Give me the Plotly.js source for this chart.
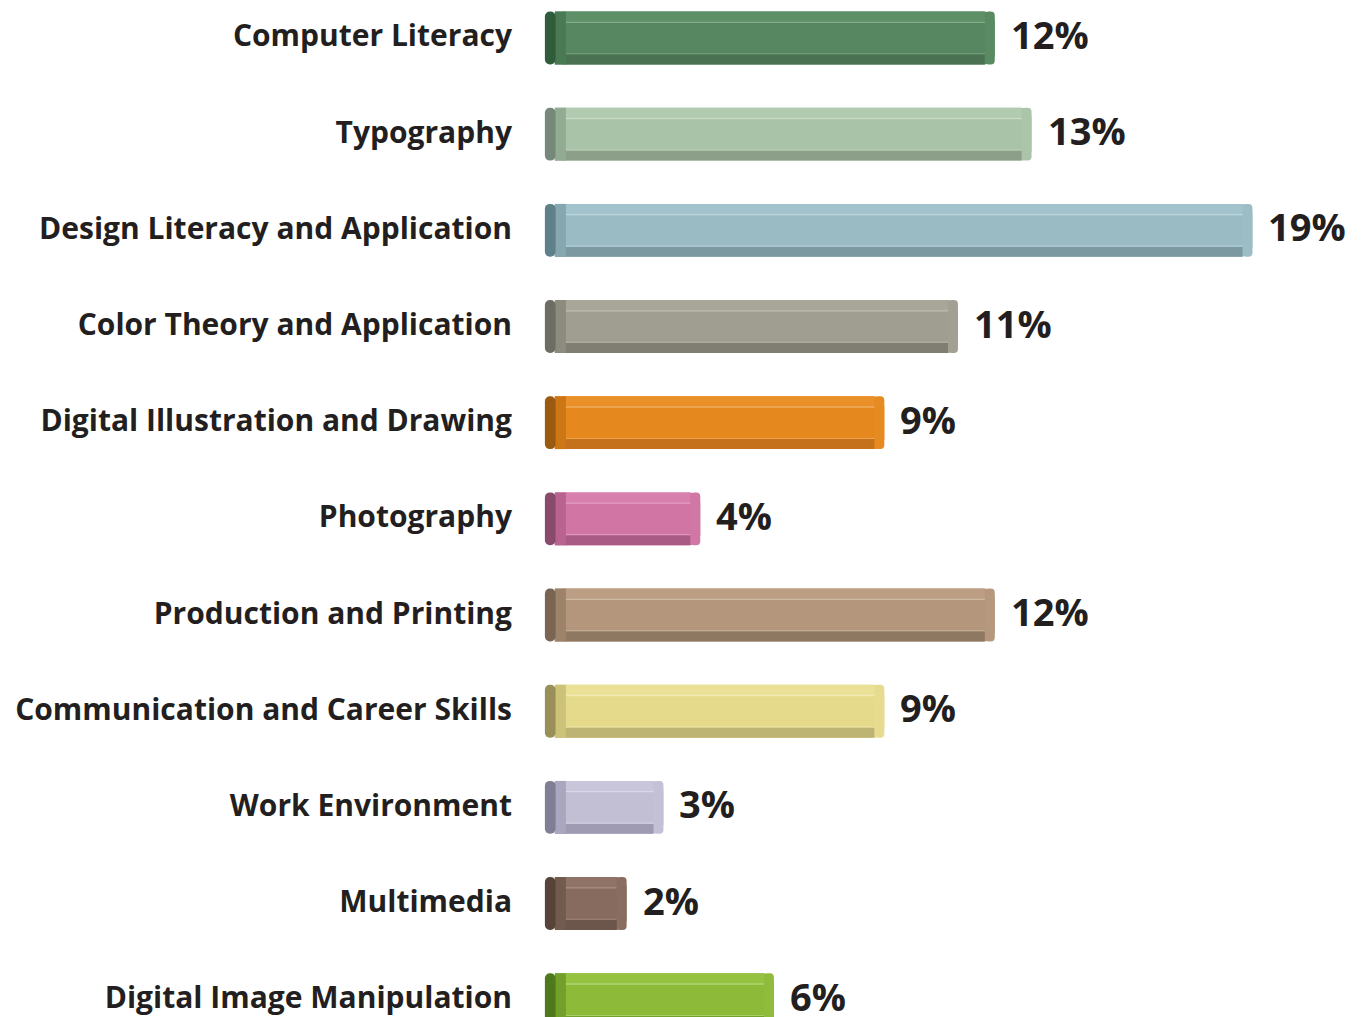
<!DOCTYPE html>
<html>
<head>
<meta charset="utf-8">
<script src="https://cdn.plot.ly/plotly-3.0.1.min.js"></script>
<style>html,body{margin:0;padding:0;background:#fff;}#chart{width:1364px;height:1017px;}</style>
</head>
<body>
<div id="chart"></div>
<script>
// ---- data ----
const categories = [
  "Computer Literacy",
  "Typography",
  "Design Literacy and Application",
  "Color Theory and Application",
  "Digital Illustration and Drawing",
  "Photography",
  "Production and Printing",
  "Communication and Career Skills",
  "Work Environment",
  "Multimedia",
  "Digital Image Manipulation"
];
const values = [12, 13, 19, 11, 9, 4, 12, 9, 3, 2, 6];
const valueLabels = ["12%", "13%", "19%", "11%", "9%", "4%", "12%", "9%", "3%", "2%", "6%"];

// ---- styles ----
const faceColors   = ["#578760","#a9c3a8","#9bbbc4","#a09e90","#e5891f","#d075a4","#b3967b","#e5da8c","#c2bfd5","#876b5e","#8dba38"];
const topColors    = ["#5e9068","#b0cbaf","#a3c3cc","#a8a698","#ea9028","#d77fad","#bb9e83","#ebe196","#c9c6dc","#8f7366","#96c242"];
const hiColors     = ["#8cb494","#cfe0ce","#c6dde3","#c8c6bb","#f3b772","#e8acc9","#d6c1ad","#f3edc0","#e0deeb","#b29c91","#bcdc84"];
const bottomColors = ["#4a7252","#8b9f89","#7c98a0","#807e72","#c5701a","#a95b85","#8f7862","#bdb372","#9e9bb2","#6c564b","#74a02c"];
const capColors    = ["#305c3b","#76887a","#5f7f89","#6e6d63","#9a5a10","#8a4a6c","#7a6552","#989058","#807e94","#574338","#4e7a1c"];
const midColors    = ["#4a7a54","#93ab92","#86a6b0","#8c8b7e","#cd7616","#b96390","#9d836a","#cdc27a","#a9a6bd","#725a4f","#72a02a"];
const endColors    = ["#598a62","#abc5aa","#9dbdc6","#a2a092","#e68b22","#d177a5","#b5987d","#e6db8e","#c4c1d6","#896d60","#8fbc3a"];

const BAR_W = 0.55, STRIP = 0.105, HI = 0.014, END = 0.27;
const capStart = -0.22, faceStart = 0.05, midLen = 0.3;
const FONT = "'Open Sans', 'Noto Sans', sans-serif";
const TXT = "#231f20";

const faceLen = values.map(v => v - faceStart);
const stripLen = values.map(v => v - faceStart - END);

const traces = [
  { // main face
    type: "bar", orientation: "h", y: categories, x: faceLen, base: faceStart,
    width: BAR_W, offset: -BAR_W/2,
    marker: { color: faceColors, cornerradius: 11 }, hoverinfo: "skip"
  },
  { // right end bevel
    type: "bar", orientation: "h", y: categories, x: values.map(() => END), base: values.map(v => v - END),
    width: BAR_W, offset: -BAR_W/2,
    marker: { color: endColors, cornerradius: 11 }, hoverinfo: "skip"
  },
  { // top strip
    type: "bar", orientation: "h", y: categories, x: stripLen, base: faceStart,
    width: STRIP, offset: -BAR_W/2,
    marker: { color: topColors, cornerradius: 0 }, hoverinfo: "skip"
  },
  { // highlight line under top strip
    type: "bar", orientation: "h", y: categories, x: stripLen, base: faceStart,
    width: HI, offset: -BAR_W/2 + STRIP,
    marker: { color: hiColors, cornerradius: 0 }, opacity: 0.8, hoverinfo: "skip"
  },
  { // bottom strip
    type: "bar", orientation: "h", y: categories, x: stripLen, base: faceStart,
    width: STRIP, offset: BAR_W/2 - STRIP,
    marker: { color: bottomColors, cornerradius: 0 }, hoverinfo: "skip"
  },
  { // highlight line above bottom strip
    type: "bar", orientation: "h", y: categories, x: stripLen, base: faceStart,
    width: HI * 0.8, offset: BAR_W/2 - STRIP - HI * 0.8,
    marker: { color: hiColors, cornerradius: 0 }, opacity: 0.6, hoverinfo: "skip"
  },
  { // left mid segment
    type: "bar", orientation: "h", y: categories, x: values.map(() => midLen), base: faceStart,
    width: BAR_W, offset: -BAR_W/2,
    marker: { color: midColors, cornerradius: 0 }, hoverinfo: "skip"
  },
  { // left cap
    type: "bar", orientation: "h", y: categories, x: values.map(() => capStart - faceStart - 0.02), base: faceStart + 0.02,
    width: BAR_W, offset: -BAR_W/2,
    marker: { color: capColors, cornerradius: 10 }, hoverinfo: "skip"
  }
];

const annotations = categories.map((c, i) => ({
  x: values[i], y: c, xref: "x", yref: "y",
  text: valueLabels[i], showarrow: false, xanchor: "left", yanchor: "middle",
  xshift: 14, yshift: 4,
  font: { family: FONT, size: 38, color: TXT, weight: 700 }
}));

const layout = {
  width: 1364, height: 1017,
  margin: { l: 515, r: 0, t: 0, b: 0 },
  paper_bgcolor: "#ffffff", plot_bgcolor: "#ffffff",
  barmode: "overlay",
  showlegend: false,
  xaxis: { range: [-1.032, 22.03], visible: false, showgrid: false, zeroline: false, fixedrange: true },
  yaxis: {
    type: "category", categoryorder: "array", categoryarray: categories,
    range: [10.18, -0.395], showgrid: false, zeroline: false, showline: false,
    ticks: "", automargin: false, fixedrange: true, ticklabelstandoff: 2, ticklabelshift: 2,
    tickfont: { family: FONT, size: 30, color: TXT, weight: 700 }
  },
  annotations: annotations
};

Plotly.newPlot("chart", traces, layout, { displayModeBar: false, staticPlot: true });
</script>
</body>
</html>
